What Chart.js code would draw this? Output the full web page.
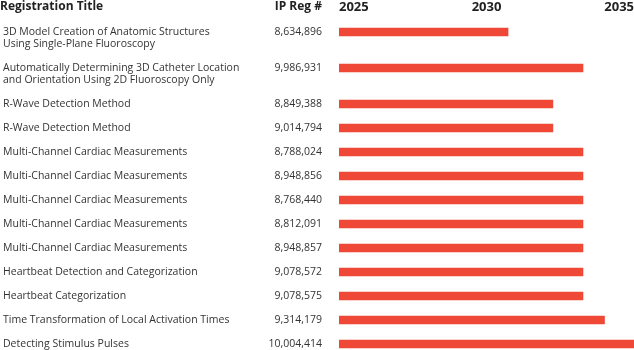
<!DOCTYPE html>
<html><head><meta charset="utf-8">
<script src="https://cdn.jsdelivr.net/npm/chart.js@4"></script>
<style>html,body{margin:0;padding:0;background:#fff}#wrap{width:634px;height:350px;position:relative}</style>
</head><body><div id="wrap"><canvas id="c"></canvas></div>
<script>
// ---- data ----
const titles = [
  ['3D Model Creation of Anatomic Structures', 'Using Single-Plane Fluoroscopy'],
  ['Automatically Determining 3D Catheter Location', 'and Orientation Using 2D Fluoroscopy Only'],
  ['R-Wave Detection Method'],
  ['R-Wave Detection Method'],
  ['Multi-Channel Cardiac Measurements'],
  ['Multi-Channel Cardiac Measurements'],
  ['Multi-Channel Cardiac Measurements'],
  ['Multi-Channel Cardiac Measurements'],
  ['Multi-Channel Cardiac Measurements'],
  ['Heartbeat Detection and Categorization'],
  ['Heartbeat Categorization'],
  ['Time Transformation of Local Activation Times'],
  ['Detecting Stimulus Pulses']
];
const regNumbers = ['8,634,896','9,986,931','8,849,388','9,014,794','8,788,024','8,948,856','8,768,440','8,812,091','8,948,857','9,078,572','9,078,575','9,314,179','10,004,414'];
const expiryYear = [2030.73, 2033.27, 2032.25, 2032.25, 2033.27, 2033.27, 2033.27, 2033.27, 2033.27, 2033.27, 2033.27, 2034.0, 2035.0];
const startYear = 2025;
const yearTicks = [2025, 2030, 2035];
const headers = ['Registration Title', 'IP Reg #'];

// row positions (in line units) derived from number of title lines
const rowPos = [];
let acc = 0;
titles.forEach(t => { rowPos.push(acc + 1); acc += t.length + 1; });

const FONT = '"Open Sans", sans-serif';
const RED = '#EF4836';
const TEXT = '#333333';
const DARK = '#222222';

const headerPlugin = {
  id: 'headers',
  afterDraw(chart) {
    const ctx = chart.ctx;
    const yReg = chart.scales.yReg;
    ctx.save();
    ctx.fillStyle = DARK;
    ctx.font = 'bold 12px ' + FONT;
    ctx.textBaseline = 'alphabetic';
    ctx.textAlign = 'left';
    ctx.fillText(headers[0], 0, 10);
    ctx.textAlign = 'right';
    ctx.fillText(headers[1], yReg.right - yReg.options.ticks.padding, 10);
    ctx.restore();
  }
};

const noPad = s => { s.paddingTop = 0; s.paddingBottom = 0; s.paddingLeft = 0; s.paddingRight = 0; };

new Chart(document.getElementById('c'), {
  type: 'bar',
  data: {
    datasets: [{
      data: expiryYear.map((e, i) => ({ y: rowPos[i], x: [startYear, e] })),
      backgroundColor: RED,
      borderWidth: 0,
      borderSkipped: false,
      barThickness: 8,
      yAxisID: 'yReg',
      xAxisID: 'x'
    }]
  },
  options: {
    indexAxis: 'y',
    responsive: true,
    maintainAspectRatio: false,
    animation: false,
    layout: { padding: { left: 3, right: 0, top: 0, bottom: 0 } },
    plugins: { legend: { display: false }, tooltip: { enabled: false } },
    scales: {
      x: {
        type: 'linear',
        position: 'top',
        min: yearTicks[0],
        max: yearTicks[yearTicks.length - 1],
        offset: false,
        grid: { display: false, drawTicks: false },
        border: { display: false },
        afterBuildTicks: s => { s.ticks = yearTicks.map(v => ({ value: v })); },
        afterFit: s => { s.height = 20; noPad(s); },
        ticks: {
          align: 'inner',
          maxRotation: 0,
          padding: 5,
          color: DARK,
          font: { family: FONT, size: 13, weight: 'bold' },
          callback: v => String(v)
        }
      },
      yReg: {
        type: 'linear',
        position: 'left',
        reverse: true,
        offset: false,
        weight: 0,
        min: 0,
        max: 27.5,
        grid: { display: false, drawTicks: false },
        border: { display: false },
        afterBuildTicks: s => { s.ticks = rowPos.map(v => ({ value: v })); },
        afterFit: s => { s.width = 86; noPad(s); },
        ticks: {
          autoSkip: false,
          padding: 17,
          color: TEXT,
          font: { family: FONT, size: 10.5, lineHeight: '12px' },
          callback: (v, i) => regNumbers[i]
        }
      },
      yTitle: {
        type: 'linear',
        position: 'left',
        reverse: true,
        offset: false,
        weight: 1,
        min: 0,
        max: 27.5,
        grid: { display: false, drawTicks: false },
        border: { display: false },
        afterBuildTicks: s => { s.ticks = rowPos.map((v, i) => ({ value: v + (titles[i].length - 1) / 2 })); },
        afterFit: s => { s.width = 250; noPad(s); },
        ticks: {
          autoSkip: false,
          crossAlign: 'far',
          padding: 0,
          color: TEXT,
          font: { family: FONT, size: 10.5, lineHeight: '12px' },
          callback: (v, i) => titles[i]
        }
      }
    }
  },
  plugins: [headerPlugin]
});
</script>
</body></html>
